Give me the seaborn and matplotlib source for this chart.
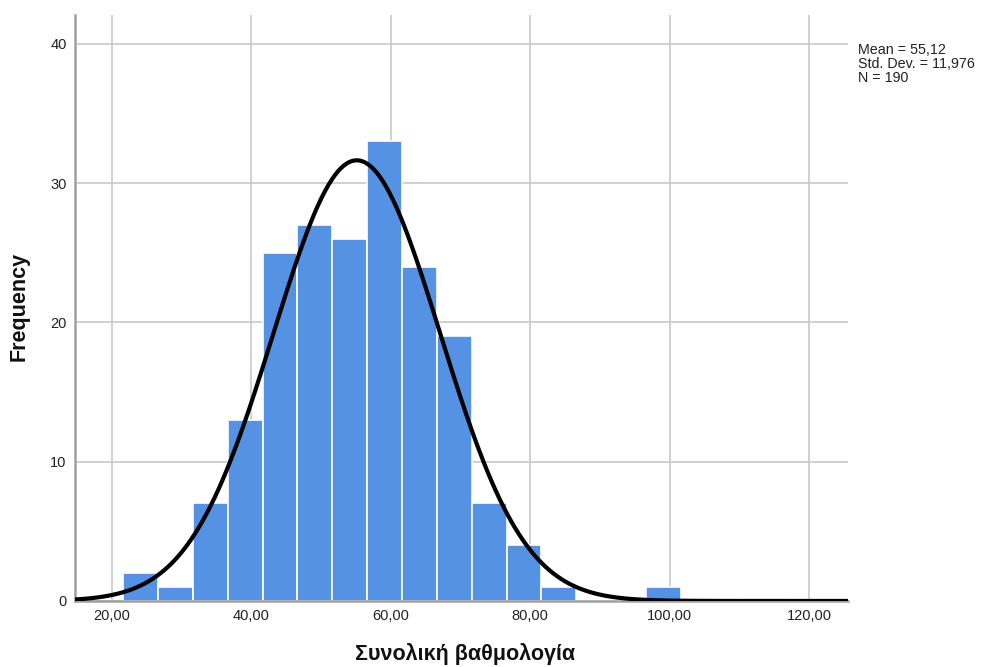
import numpy as np
import pandas as pd
import matplotlib
matplotlib.use("Agg")
import matplotlib.pyplot as plt
import seaborn as sns

# histogram bins (5-point width) and their counts
bin_edges = [21.6, 26.6, 31.6, 36.6, 41.6, 46.6, 51.6, 56.6, 61.6, 66.6,
             71.6, 76.6, 81.6, 86.6, 91.6, 96.6, 101.6]
counts = [2, 1, 7, 13, 25, 27, 26, 33, 24, 19, 7, 4, 1, 0, 0, 1]

mean_val = 55.12
std_val = 11.976
n_obs = 190

x_ticks = [20, 40, 60, 80, 100, 120]
y_ticks = [0, 10, 20, 30, 40]

sns.set_theme(style="white")
plt.rcParams['font.family'] = ['Liberation Sans', 'DejaVu Sans']

fig = plt.figure(figsize=(9.81, 6.67), dpi=100)
ax = fig.add_axes([0.0765, 0.099, 0.788, 0.8785])

centers = [(a + b) / 2 for a, b in zip(bin_edges[:-1], bin_edges[1:])]
df = pd.DataFrame({"score": centers, "count": counts})
sns.histplot(data=df, x="score", weights="count", bins=bin_edges,
             color="#5592e3", alpha=1, edgecolor="white", linewidth=1.2, ax=ax, zorder=2)

# normal curve scaled to frequency
bw = bin_edges[1] - bin_edges[0]
xs = np.linspace(14.7, 125.6, 400)
ys = n_obs * bw * np.exp(-0.5 * ((xs - mean_val) / std_val) ** 2) / (std_val * np.sqrt(2 * np.pi))
sns.lineplot(x=xs, y=ys, color="black", linewidth=3, ax=ax, zorder=3)

ax.set_xlim(14.7, 125.6)
ax.set_ylim(0, 42.08)
ax.set_xticks(x_ticks)
ax.set_xticklabels([f"{v:.2f}".replace(".", ",") for v in x_ticks], fontsize=10.5, color="#222222")
ax.set_yticks(y_ticks)
ax.set_yticklabels([str(v) for v in y_ticks], fontsize=10.5, color="#222222")
ax.tick_params(length=0, pad=6)
ax.grid(True, color="#c8c8c8", linewidth=1.2, zorder=0)
ax.set_axisbelow(True)

for s in ["top", "right"]:
    ax.spines[s].set_visible(False)
for s in ["left", "bottom"]:
    ax.spines[s].set_color("#a0a0a0")
    ax.spines[s].set_linewidth(1.8)

ax.set_xlabel("")
ax.set_ylabel("")
fig.text(0.474, 0.0105, "Συνολική βαθμολογία", fontsize=15.5, fontweight="bold",
         ha="center", va="baseline", color="#111111")
fig.text(0.019, 0.54, "Frequency", fontsize=15.5, fontweight="bold", rotation=90,
         ha="center", va="center", color="#111111")

stats_txt = (f"Mean = {mean_val:.2f}".replace(".", ",") + "\n"
             + "Std. Dev. = " + f"{std_val:.3f}".replace(".", ",") + "\n"
             + f"N = {n_obs}")
fig.text(0.875, 0.936, stats_txt, fontsize=10.3, va="top", ha="left",
         linespacing=1.0, color="#222222")

fig.savefig("out.png", dpi=100)
